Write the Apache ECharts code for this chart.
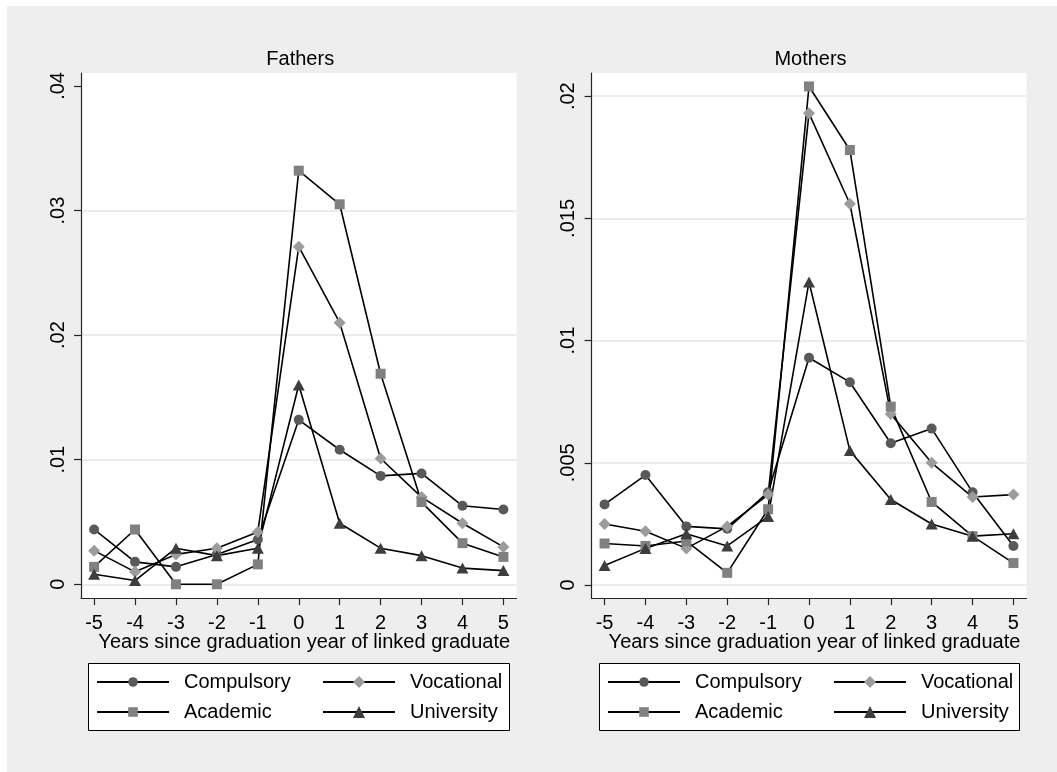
<!DOCTYPE html>
<html>
<head>
<meta charset="utf-8">
<script src="https://cdn.jsdelivr.net/npm/echarts@6/dist/echarts.min.js"></script>
<style>html,body{margin:0;padding:0;background:#fff}#chart{width:1057px;height:772px}</style>
</head>
<body>
<div id="chart"></div>
<script>
// ---- data ----
const years = [-5, -4, -3, -2, -1, 0, 1, 2, 3, 4, 5];
const seriesNames = ['Compulsory', 'Vocational', 'Academic', 'University'];
const panelTitles = ['Fathers', 'Mothers'];
const xAxisTitle = 'Years since graduation year of linked graduate';
const fathersYTicks = [0, 0.01, 0.02, 0.03, 0.04];
const mothersYTicks = [0, 0.005, 0.01, 0.015, 0.02];

const fathersCompulsory = [0.0044, 0.0018, 0.0014, 0.0024, 0.0036, 0.0132, 0.0108, 0.0087, 0.0089, 0.0063, 0.0060];
const fathersVocational = [0.0027, 0.0010, 0.0024, 0.0029, 0.0042, 0.0271, 0.0210, 0.0101, 0.0070, 0.0049, 0.0030];
const fathersAcademic   = [0.0014, 0.0044, 0.0000, 0.0000, 0.0016, 0.0332, 0.0305, 0.0169, 0.0066, 0.0033, 0.0022];
const fathersUniversity = [0.0008, 0.0003, 0.0029, 0.0023, 0.0029, 0.0160, 0.0049, 0.0029, 0.0023, 0.0013, 0.0011];

const mothersCompulsory = [0.0033, 0.0045, 0.0024, 0.0023, 0.0038, 0.0093, 0.0083, 0.0058, 0.0064, 0.0038, 0.0016];
const mothersVocational = [0.0025, 0.0022, 0.0015, 0.0024, 0.0037, 0.0193, 0.0156, 0.0070, 0.0050, 0.0036, 0.0037];
const mothersAcademic   = [0.0017, 0.0016, 0.0018, 0.0005, 0.0031, 0.0204, 0.0178, 0.0073, 0.0034, 0.0020, 0.0009];
const mothersUniversity = [0.0008, 0.0015, 0.0021, 0.0016, 0.0028, 0.0124, 0.0055, 0.0035, 0.0025, 0.0020, 0.0021];

// ---- style ----
const FONT = '"Liberation Sans", Arial, Helvetica, sans-serif';
const styles = [
  { symbol: 'circle',   size: 10,      color: '#595959' },
  { symbol: 'diamond',  size: 12,      color: '#9c9c9c' },
  { symbol: 'rect',     size: 10,      color: '#808080' },
  { symbol: 'triangle', size: [12, 11], color: '#3d3d3d' }
];
const panelData = [
  [fathersCompulsory, fathersVocational, fathersAcademic, fathersUniversity],
  [mothersCompulsory, mothersVocational, mothersAcademic, mothersUniversity]
];
const grids = [
  { left: 81, top: 73, width: 435.5, height: 525 },
  { left: 591.5, top: 73, width: 435, height: 525 }
];
const yRanges = [[-0.0011, 0.04104], [-0.00053, 0.02095]];
const yTicks = [fathersYTicks, mothersYTicks];

function fmtY(v) {
  if (v === 0) return '0';
  return String(+v.toFixed(4)).replace(/^0/, '');
}

const axisColor = '#262626';
const option = {
  backgroundColor: '#ffffff',
  animation: false,
  textStyle: { fontFamily: FONT },
  grid: grids.map(g => Object.assign({ show: true, backgroundColor: '#ffffff', borderWidth: 0, containLabel: false }, g)),
  xAxis: [0, 1].map(i => ({
    type: 'value', gridIndex: i, min: -5.32, max: 5.32,
    axisLine: { show: true, onZero: false, lineStyle: { color: axisColor, width: 1.2 } },
    axisTick: { show: true, length: 7, customValues: years, lineStyle: { color: axisColor, width: 1.2 } },
    axisLabel: { customValues: years, margin: 15, color: '#000', fontSize: 20, fontFamily: FONT,
      formatter: v => String(Math.round(v)) },
    splitLine: { show: false },
    name: xAxisTitle, nameLocation: 'middle', nameGap: 34, nameMoveOverlap: false,
    nameTextStyle: { color: '#000', fontSize: 20, fontFamily: FONT, padding: [0, 0, 0, 11] }
  })),
  yAxis: [0, 1].map(i => ({
    type: 'value', gridIndex: i, min: yRanges[i][0], max: yRanges[i][1],
    axisLine: { show: true, onZero: false, lineStyle: { color: axisColor, width: 1.2 } },
    axisTick: { show: true, length: 7, customValues: yTicks[i], lineStyle: { color: axisColor, width: 1.2 } },
    axisLabel: { customValues: yTicks[i], rotate: 90, margin: 13, color: '#000', fontSize: 20, fontFamily: FONT,
      formatter: fmtY },
    splitLine: { show: true, showMinLine: true, showMaxLine: i === 1,
      lineStyle: { color: '#e6e6e6', width: 1.5 } }
  })),
  legend: [],
  graphic: [],
  series: []
};

// series
[0, 1].forEach(p => {
  seriesNames.forEach((name, k) => {
    option.series.push({
      name: name, type: 'line', xAxisIndex: p, yAxisIndex: p,
      data: years.map((yr, j) => [yr, panelData[p][k][j]]),
      symbol: styles[k].symbol, symbolSize: styles[k].size, showSymbol: true,
      itemStyle: { color: styles[k].color, borderWidth: 0 },
      lineStyle: { color: '#000', width: 1.6 },
      emphasis: { disabled: true }, z: 3
    });
  });
});

// legends: two columns per panel
const legendBoxes = [{ x: 88, y: 663, w: 421, h: 67 }, { x: 599, y: 663, w: 420, h: 67 }];
const legendIconHeights = [12, 15];
[0, 1].forEach(p => {
  const bx = legendBoxes[p].x;
  [[0, 2], [1, 3]].forEach((col, c) => {
    option.legend.push({
      data: col.map(k => seriesNames[k]),
      orient: 'vertical',
      left: bx + 3 + c * 226, top: 667,
      itemWidth: 72, itemHeight: legendIconHeights[c], itemGap: 10,
      selectedMode: false,
      textStyle: { color: '#000', fontSize: 20, fontFamily: FONT, lineHeight: 20, padding: [0, 0, 0, 10] },
      z: 10
    });
  });
});

// decoration: gray graph region, legend frames, panel titles
option.graphic.push({ type: 'rect', shape: { x: 7, y: 6, width: 1050, height: 766 },
  style: { fill: '#eeeeee' }, z: -10, silent: true });
legendBoxes.forEach(b => option.graphic.push({ type: 'rect',
  shape: { x: b.x + 0.5, y: b.y + 0.5, width: b.w, height: b.h },
  style: { fill: '#ffffff', stroke: '#000', lineWidth: 1 }, z: 1, silent: true }));
[0, 1].forEach(p => option.graphic.push({ type: 'text',
  x: grids[p].left + grids[p].width / 2 + 1.5, y: 59,
  style: { text: panelTitles[p], fill: '#000', font: '20px ' + FONT, textAlign: 'center', textVerticalAlign: 'middle' },
  silent: true }));

const chart = echarts.init(document.getElementById('chart'), null, { renderer: 'canvas' });
chart.setOption(option);
</script>
</body>
</html>
